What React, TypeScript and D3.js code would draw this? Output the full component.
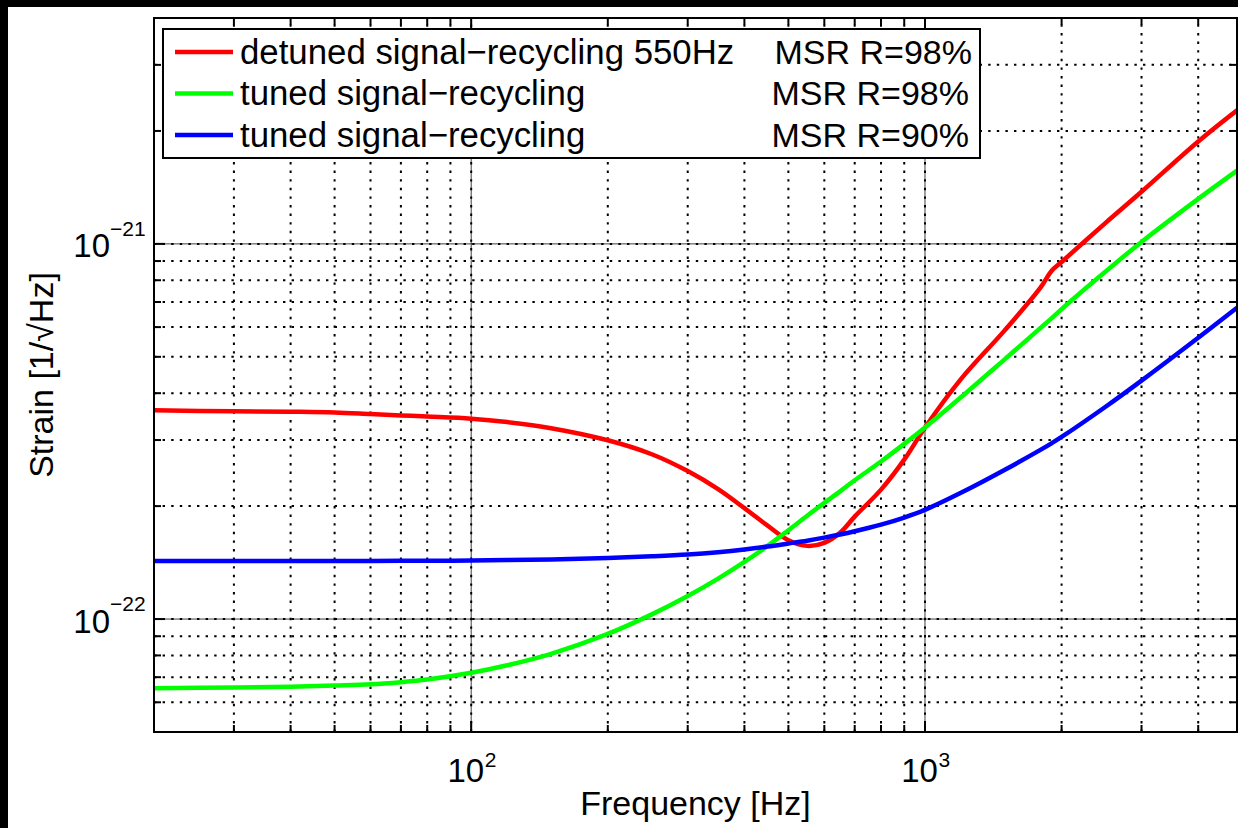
import React from "react";
import * as d3 from "d3";

// ---------- data ----------
const FREQ_HZ = [20, 30, 40, 50, 60, 70, 80, 100, 120, 150, 200, 250, 300, 350, 400, 450, 500, 550, 600, 650, 700, 800, 900, 1000, 1200, 1500, 1800, 1900, 2000, 2500, 3000, 4000, 4870];

// strain values in units of 1e-22 / sqrt(Hz)
const DETUNED_550_R98 = [3.6, 3.58, 3.57, 3.555, 3.52, 3.49, 3.465, 3.42, 3.35, 3.227, 2.996, 2.75, 2.48, 2.22, 1.975, 1.774, 1.623, 1.567, 1.596, 1.698, 1.875, 2.213, 2.66, 3.24, 4.36, 5.89, 7.67, 8.47, 8.95, 11.38, 13.77, 18.75, 22.7];
const TUNED_R98 = [0.654, 0.657, 0.66, 0.665, 0.67, 0.679, 0.69, 0.719, 0.753, 0.808, 0.913, 1.029, 1.152, 1.282, 1.42, 1.567, 1.725, 1.886, 2.04, 2.19, 2.344, 2.63, 2.93, 3.24, 3.9, 4.93, 5.98, 6.33, 6.7, 8.44, 10.12, 13.18, 15.67];
const TUNED_R90 = [1.429, 1.429, 1.429, 1.429, 1.429, 1.43, 1.43, 1.432, 1.436, 1.442, 1.455, 1.47, 1.486, 1.507, 1.532, 1.56, 1.59, 1.618, 1.648, 1.68, 1.714, 1.785, 1.865, 1.955, 2.17, 2.5, 2.829, 2.94, 3.057, 3.68, 4.32, 5.62, 6.76];

const SERIES_COLORS = ["#ff0000", "#00ff00", "#0000ff"];
const LEGEND_NAMES = ["detuned signal\u2212recycling 550Hz", "tuned signal\u2212recycling", "tuned signal\u2212recycling"];
const LEGEND_MSR = ["MSR R=98%", "MSR R=98%", "MSR R=90%"];

const X_DOMAIN = [20, 4870];
const Y_DOMAIN = [5e-23, 4e-21];
const X_MAJOR_EXP = [2, 3];
const Y_MAJOR_EXP = [-21, -22];

const X_LABEL = "Frequency [Hz]";
const Y_LABEL = "Strain [1/\u221AHz]";

// ---------- layout ----------
const W = 1238;
const H = 828;
const L = 154, T = 18, R = 1237, B = 732;
const FONT = "'Liberation Sans', Arial, Helvetica, sans-serif";

export default function App() {
  const x = d3.scaleLog().domain(X_DOMAIN).range([L, R]);
  const y = d3.scaleLog().domain(Y_DOMAIN).range([B, T]);

  const series = [DETUNED_550_R98, TUNED_R98, TUNED_R90].map((vals) =>
    FREQ_HZ.map((f, i) => ({ f, v: vals[i] * 1e-22 }))
  );

  const line = d3
    .line<{ f: number; v: number }>()
    .x((d) => x(d.f))
    .y((d) => y(d.v))
    .curve(d3.curveCatmullRom.alpha(0.5));

  // minor grid values
  const xMinor: number[] = [];
  [10, 100, 1000].forEach((dec) => {
    for (let k = 2; k <= 9; k++) {
      const v = k * dec;
      if (v > X_DOMAIN[0] && v < X_DOMAIN[1]) xMinor.push(v);
    }
  });
  const yMinor: number[] = [];
  [1e-23, 1e-22, 1e-21].forEach((dec) => {
    for (let k = 2; k <= 9; k++) {
      const v = k * dec;
      if (v > Y_DOMAIN[0] * 1.0001 && v < Y_DOMAIN[1] * 0.9999) yMinor.push(v);
    }
  });
  const xMajor = X_MAJOR_EXP.map((e) => Math.pow(10, e));
  const yMajor = Y_MAJOR_EXP.map((e) => Math.pow(10, e));

  const dotted = { stroke: "#000", strokeWidth: 2, strokeDasharray: "2.4 6.2" };
  const majT = 11;
  const minT = 7;

  return (
    <div style={{ position: "absolute", left: 0, top: 0, width: W, height: H, background: "#000" }}>
      <svg width={W} height={H} style={{ display: "block" }} fontFamily={FONT}>
        <rect x={0} y={0} width={W} height={H} fill="#000" />
        <rect x={8} y={7} width={W - 8} height={H - 7} fill="#fff" />
        <defs>
          <clipPath id="plotclip">
            <rect x={L} y={T} width={R - L} height={B - T} />
          </clipPath>
        </defs>

        {/* grid */}
        <g>
          {xMinor.map((v) => (
            <line key={"xm" + v} x1={x(v)} x2={x(v)} y1={B} y2={T} {...dotted} />
          ))}
          {yMinor.map((v) => (
            <line key={"ym" + v} x1={L} x2={R} y1={y(v)} y2={y(v)} {...dotted} />
          ))}
          {xMajor.map((v) => (
            <g key={"xM" + v}>
              <line x1={x(v)} x2={x(v)} y1={B} y2={T} stroke="#000" strokeWidth={1} opacity={0.75} />
              <line x1={x(v)} x2={x(v)} y1={B} y2={T} {...dotted} />
            </g>
          ))}
          {yMajor.map((v) => (
            <g key={"yM" + v}>
              <line x1={L} x2={R} y1={y(v)} y2={y(v)} stroke="#000" strokeWidth={1} opacity={0.75} />
              <line x1={L} x2={R} y1={y(v)} y2={y(v)} {...dotted} />
            </g>
          ))}
        </g>

        {/* curves */}
        <g clipPath="url(#plotclip)">
          {series.map((s, i) => (
            <path key={i} d={line(s) || ""} fill="none" stroke={SERIES_COLORS[i]} strokeWidth={4.5} strokeLinejoin="round" />
          ))}
        </g>

        {/* ticks */}
        <g stroke="#000" strokeWidth={2}>
          {xMinor.map((v) => (
            <g key={"txm" + v}>
              <line x1={x(v)} x2={x(v)} y1={B} y2={B - minT} />
              <line x1={x(v)} x2={x(v)} y1={T} y2={T + minT} />
            </g>
          ))}
          {xMajor.map((v) => (
            <g key={"txM" + v}>
              <line x1={x(v)} x2={x(v)} y1={B} y2={B - majT} />
              <line x1={x(v)} x2={x(v)} y1={T} y2={T + majT} />
            </g>
          ))}
          {yMinor.map((v) => (
            <g key={"tym" + v}>
              <line x1={L} x2={L + minT} y1={y(v)} y2={y(v)} />
              <line x1={R} x2={R - minT} y1={y(v)} y2={y(v)} />
            </g>
          ))}
          {yMajor.map((v) => (
            <g key={"tyM" + v}>
              <line x1={L} x2={L + majT} y1={y(v)} y2={y(v)} />
              <line x1={R} x2={R - majT} y1={y(v)} y2={y(v)} />
            </g>
          ))}
        </g>

        {/* axes box */}
        <rect x={L} y={T} width={R - L} height={B - T} fill="none" stroke="#000" strokeWidth={2} />

        {/* x tick labels */}
        {X_MAJOR_EXP.map((e) => {
          const px = x(Math.pow(10, e));
          return (
            <g key={"xl" + e}>
              <text x={px + 13} y={782} fontSize={33} textAnchor="end" fill="#000">10</text>
              <text x={px + 13.5} y={767} fontSize={21} textAnchor="start" fill="#000">{String(e)}</text>
            </g>
          );
        })}

        {/* y tick labels */}
        {Y_MAJOR_EXP.map((e) => {
          const py = y(Math.pow(10, e));
          return (
            <g key={"yl" + e}>
              <text x={110} y={py + 13.5} fontSize={33} textAnchor="end" fill="#000">10</text>
              <text x={110} y={py - 8} fontSize={21} textAnchor="start" fill="#000">{"\u2212" + String(-e)}</text>
            </g>
          );
        })}

        {/* axis labels */}
        <text x={(L + R) / 2} y={815} fontSize={34} textAnchor="middle" fill="#000">{X_LABEL}</text>
        <text transform={`translate(53, ${(T + B) / 2}) rotate(-90)`} fontSize={34} textAnchor="middle" fill="#000">{Y_LABEL}</text>

        {/* legend */}
        <g>
          <rect x={163} y={29} width={980 - 163} height={158 - 29} fill="#fff" stroke="#000" strokeWidth={2} />
          {LEGEND_NAMES.map((name, i) => {
            const base = 63.5 + i * 41.5;
            return (
              <g key={"lg" + i}>
                <line x1={175} x2={233} y1={base - 11.5} y2={base - 11.5} stroke={SERIES_COLORS[i]} strokeWidth={4.5} />
                <text x={240} y={base} fontSize={34.8} fill="#000">{name}</text>
                <text x={i === 0 ? 972 : 969} y={base} fontSize={34} textAnchor="end" fill="#000">{LEGEND_MSR[i]}</text>
              </g>
            );
          })}
        </g>
      </svg>
    </div>
  );
}
